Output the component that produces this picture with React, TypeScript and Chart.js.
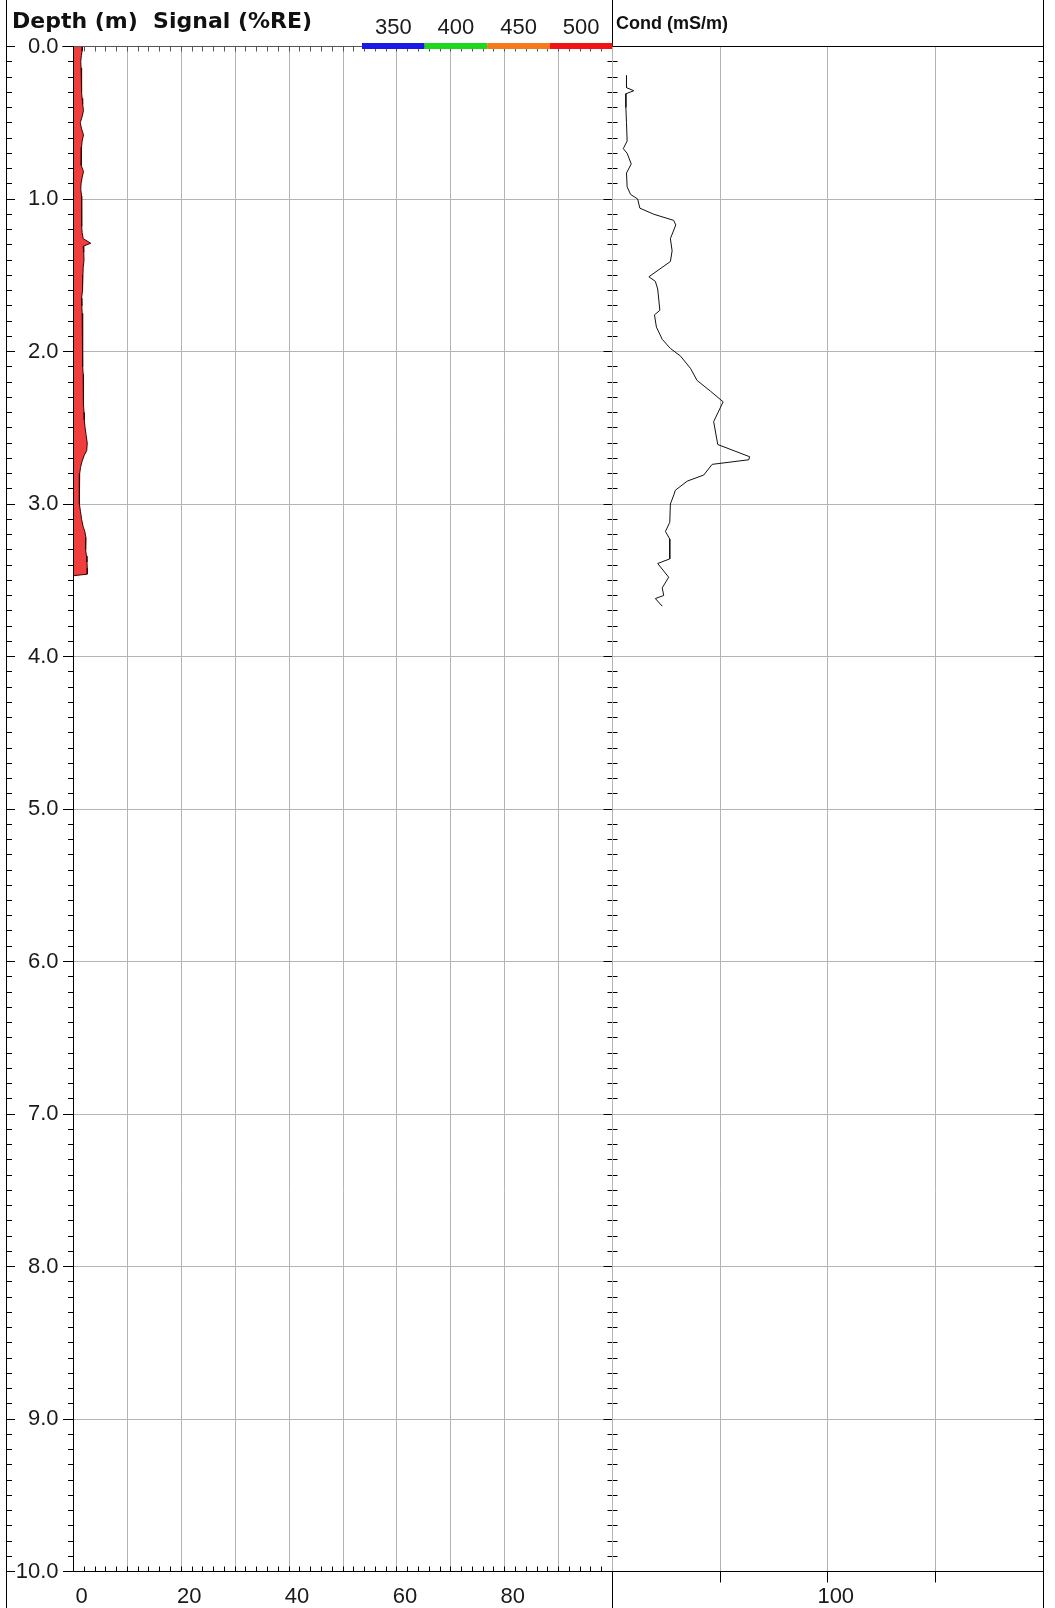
import React, { useEffect, useRef } from 'react';
import { Chart, registerables } from 'chart.js';
Chart.register(...registerables);

// ---------- data ----------
const signalDepth = [0.0, 0.03, 0.06, 0.1, 0.14, 0.18, 0.22, 0.26, 0.3, 0.34, 0.38, 0.42, 0.46, 0.5, 0.54, 0.58, 0.62, 0.66, 0.7, 0.74, 0.78, 0.82, 0.86, 0.9, 0.94, 0.98, 1.02, 1.06, 1.1, 1.14, 1.18, 1.22, 1.26, 1.29, 1.31, 1.35, 1.4, 1.45, 1.5, 1.55, 1.6, 1.65, 1.7, 1.75, 1.8, 1.85, 1.9, 1.95, 2.0, 2.05, 2.1, 2.15, 2.2, 2.25, 2.3, 2.35, 2.4, 2.45, 2.5, 2.55, 2.6, 2.65, 2.68, 2.72, 2.76, 2.8, 2.85, 2.9, 2.95, 3.0, 3.05, 3.1, 3.15, 3.18, 3.22, 3.26, 3.3, 3.34, 3.38, 3.42, 3.46, 3.47];
const signalValue = [1.7, 1.6, 1.45, 1.35, 1.4, 1.5, 1.45, 1.55, 1.5, 1.6, 1.7, 1.85, 1.6, 1.25, 1.5, 1.85, 1.6, 1.5, 1.45, 1.4, 1.45, 1.85, 1.6, 1.4, 1.35, 1.5, 1.5, 1.55, 1.5, 1.5, 1.55, 1.6, 1.8, 3.2, 1.8, 1.9, 1.95, 1.8, 1.75, 1.7, 1.65, 1.5, 1.55, 1.6, 1.65, 1.7, 1.65, 1.7, 1.75, 1.7, 1.75, 1.8, 1.8, 1.85, 1.85, 1.9, 1.95, 2.0, 2.15, 2.35, 2.55, 2.45, 2.0, 1.6, 1.3, 1.15, 1.1, 1.1, 1.05, 1.1, 1.3, 1.5, 1.8, 2.1, 2.3, 2.2, 2.3, 2.4, 2.5, 2.55, 2.55, 0.05];

const condDepth = [0.19, 0.27, 0.29, 0.31, 0.4, 0.5, 0.62, 0.67, 0.7, 0.77, 0.83, 0.92, 0.97, 1.0, 1.06, 1.1, 1.14, 1.17, 1.26, 1.34, 1.41, 1.51, 1.54, 1.59, 1.73, 1.76, 1.84, 1.92, 1.98, 2.03, 2.11, 2.19, 2.26, 2.33, 2.46, 2.61, 2.69, 2.71, 2.74, 2.81, 2.85, 2.91, 2.94, 3.0, 3.12, 3.18, 3.23, 3.36, 3.39, 3.48, 3.55, 3.6, 3.62, 3.67];
const condValue = [6.5, 6.5, 9.9, 6.2, 6.2, 6.5, 6.8, 5.0, 6.8, 8.7, 6.5, 6.8, 8.4, 11.7, 12.7, 19.2, 28.4, 29.4, 26.9, 27.7, 26.9, 16.9, 19.9, 21.0, 22.0, 19.5, 20.4, 23.1, 26.9, 31.6, 36.2, 39.3, 45.5, 51.4, 47.0, 48.9, 63.7, 63.3, 46.3, 42.4, 34.7, 29.2, 28.5, 26.9, 26.6, 24.6, 26.6, 26.6, 21.0, 26.1, 23.1, 23.8, 19.9, 23.1];

const depthRange = [0, 10];
const signalRange = [0, 100];
const condRange = [0, 200];
const signalTickLabels = [0, 20, 40, 60, 80];
const condTickLabels = [100];
const condMajorTicks = [50, 100, 150];
const legendLabels = ['350', '400', '450', '500'];
const legendColors = ['#1a1ae6', '#1ed81e', '#f57a1e', '#f01414'];

// ---------- layout ----------
const W = 1055;
const H = 1608;
const TOP = 46.5;
const BOTTOM = 1571.5;
const AXIS_L = 73.5;
const MID = 612.5;
const RIGHT = 1043.5;
const OUTER_L = 6.5;
const TICK_SIZE = 22;
const TICK_FONT = TICK_SIZE + 'px "Liberation Sans", Arial, sans-serif';

const crisp = (v: number) => Math.floor(v) + 0.5;

function seg(ctx: CanvasRenderingContext2D, x1: number, y1: number, x2: number, y2: number) {
  ctx.beginPath();
  ctx.moveTo(x1, y1);
  ctx.lineTo(x2, y2);
  ctx.stroke();
}

const leftDecor = {
  id: 'leftDecor',
  afterDraw(chart: any) {
    const ctx = chart.ctx as CanvasRenderingContext2D;
    const ys = chart.scales.y;
    const xs = chart.scales.x;
    ctx.save();
    ctx.lineWidth = 1;
    ctx.strokeStyle = '#555';
    seg(ctx, 62, TOP, MID, TOP);
    for (let v = 2; v < 100; v += 2) {
      const px = crisp(xs.getPixelForValue(v));
      seg(ctx, px, TOP, px, TOP + 5);
    }
    ctx.strokeStyle = '#000';
    seg(ctx, OUTER_L, 0, OUTER_L, H);
    seg(ctx, MID, 0, MID, H);
    seg(ctx, AXIS_L, TOP, AXIS_L, BOTTOM);
    seg(ctx, AXIS_L, BOTTOM, MID, BOTTOM);
    for (let v = 2; v < 100; v += 2) {
      const px = crisp(xs.getPixelForValue(v));
      seg(ctx, px, BOTTOM, px, BOTTOM - 5);
    }
    for (let i = 0; i <= 100; i++) {
      const major = i % 10 === 0;
      const py = crisp(ys.getPixelForValue(i / 10));
      seg(ctx, OUTER_L, py, major ? 15 : 12, py);
      seg(ctx, major ? 63 : 68, py, AXIS_L, py);
      seg(ctx, MID - (major ? 9 : 5), py, MID + (major ? 9 : 5), py);
    }
    const segW = (MID - 362) / legendLabels.length;
    ctx.font = TICK_FONT;
    ctx.textAlign = 'center';
    ctx.textBaseline = 'middle';
    legendLabels.forEach((lab, i) => {
      ctx.fillStyle = legendColors[i];
      ctx.fillRect(362 + i * segW, 43, segW, 6);
      ctx.fillStyle = '#1a1a1a';
      ctx.fillText(lab, 362 + (i + 0.5) * segW, 28);
    });
    ctx.fillStyle = '#111';
    ctx.textAlign = 'left';
    ctx.textBaseline = 'alphabetic';
    ctx.font = 'bold 22px "DejaVu Sans", sans-serif';
    ctx.fillText('Depth (m)  Signal (%RE)', 12, 28);
    ctx.restore();
  },
};

const rightDecor = {
  id: 'rightDecor',
  afterDraw(chart: any) {
    const ctx = chart.ctx as CanvasRenderingContext2D;
    const ys = chart.scales.y;
    const xs = chart.scales.x;
    ctx.save();
    ctx.lineWidth = 1;
    ctx.strokeStyle = '#000';
    seg(ctx, RIGHT, 0, RIGHT, H);
    seg(ctx, MID, TOP, RIGHT, TOP);
    seg(ctx, 600, BOTTOM, RIGHT, BOTTOM);
    for (let i = 0; i <= 100; i++) {
      const major = i % 10 === 0;
      const py = crisp(ys.getPixelForValue(i / 10));
      seg(ctx, RIGHT - (major ? 9 : 5), py, RIGHT, py);
    }
    condMajorTicks.forEach((v) => {
      const px = crisp(xs.getPixelForValue(v));
      seg(ctx, px, BOTTOM, px, BOTTOM + 11);
    });
    ctx.fillStyle = '#111';
    ctx.font = 'bold 18px "Liberation Sans", Arial, sans-serif';
    ctx.textAlign = 'left';
    ctx.textBaseline = 'alphabetic';
    ctx.fillText('Cond (mS/m)', 616, 29);
    ctx.restore();
  },
};

export default function App() {
  const c1 = useRef<HTMLCanvasElement | null>(null);
  const c2 = useRef<HTMLCanvasElement | null>(null);

  useEffect(() => {
    Chart.defaults.font.family = '"Liberation Sans", Arial, sans-serif';
    const gridColor = '#b4b4b4';

    const chart1 = new Chart(c1.current as HTMLCanvasElement, {
      type: 'line',
      data: {
        datasets: [
          {
            data: signalDepth.map((d, i) => ({ x: signalValue[i], y: d })),
            borderColor: '#3a0000',
            borderWidth: 1,
            backgroundColor: 'rgb(240,62,62)',
            fill: 'origin',
            pointRadius: 0,
            tension: 0,
          },
        ],
      },
      options: {
        indexAxis: 'y',
        animation: false,
        responsive: false,
        events: [],
        layout: { padding: { left: 0, top: TOP, right: W - MID, bottom: 0 } },
        plugins: { legend: { display: false }, tooltip: { enabled: false } },
        scales: {
          y: {
            type: 'linear',
            reverse: true,
            min: depthRange[0],
            max: depthRange[1],
            afterFit: (s: any) => { s.width = AXIS_L; },
            ticks: {
              stepSize: 1,
              autoSkip: false,
              padding: 15,
              color: '#1a1a1a',
              font: { size: TICK_SIZE },
              callback: (v: any) => Number(v).toFixed(1),
            },
            grid: { color: gridColor, drawTicks: false },
            border: { display: false },
          },
          x: {
            type: 'linear',
            position: 'bottom',
            min: signalRange[0],
            max: signalRange[1],
            afterFit: (s: any) => { s.height = H - BOTTOM; },
            ticks: {
              stepSize: 10,
              autoSkip: false,
              maxRotation: 0,
              padding: 12,
              labelOffset: 8,
              color: '#1a1a1a',
              font: { size: TICK_SIZE },
              callback: (v: any) => (signalTickLabels.includes(Number(v)) ? String(v) : ''),
            },
            grid: { color: gridColor, drawTicks: false },
            border: { display: false },
          },
        },
      },
      plugins: [leftDecor],
    } as any);

    const chart2 = new Chart(c2.current as HTMLCanvasElement, {
      type: 'line',
      data: {
        datasets: [
          {
            data: condDepth.map((d, i) => ({ x: condValue[i], y: d })),
            borderColor: '#111',
            borderWidth: 1,
            fill: false,
            pointRadius: 0,
            tension: 0,
          },
        ],
      },
      options: {
        indexAxis: 'y',
        animation: false,
        responsive: false,
        events: [],
        layout: { padding: { left: MID, top: TOP, right: W - RIGHT, bottom: 0 } },
        plugins: { legend: { display: false }, tooltip: { enabled: false } },
        scales: {
          y: {
            type: 'linear',
            reverse: true,
            min: depthRange[0],
            max: depthRange[1],
            afterFit: (s: any) => { s.width = 0; },
            ticks: { stepSize: 1, display: false },
            grid: { color: gridColor, drawTicks: false },
            border: { display: false },
          },
          x: {
            type: 'linear',
            position: 'bottom',
            min: condRange[0],
            max: condRange[1],
            afterFit: (s: any) => { s.height = H - BOTTOM; },
            ticks: {
              stepSize: 50,
              autoSkip: false,
              maxRotation: 0,
              padding: 12,
              labelOffset: 8,
              color: '#1a1a1a',
              font: { size: TICK_SIZE },
              callback: (v: any) => (condTickLabels.includes(Number(v)) ? String(v) : ''),
            },
            grid: { color: gridColor, drawTicks: false },
            border: { display: false },
          },
        },
      },
      plugins: [rightDecor],
    } as any);

    return () => {
      chart1.destroy();
      chart2.destroy();
    };
  }, []);

  const cs: React.CSSProperties = { position: 'absolute', left: 0, top: 0, width: W, height: H };
  return (
    <div style={{ position: 'absolute', left: 0, top: 0, width: W, height: H, background: '#fff' }}>
      <canvas ref={c1} width={W} height={H} style={cs} />
      <canvas ref={c2} width={W} height={H} style={cs} />
    </div>
  );
}
